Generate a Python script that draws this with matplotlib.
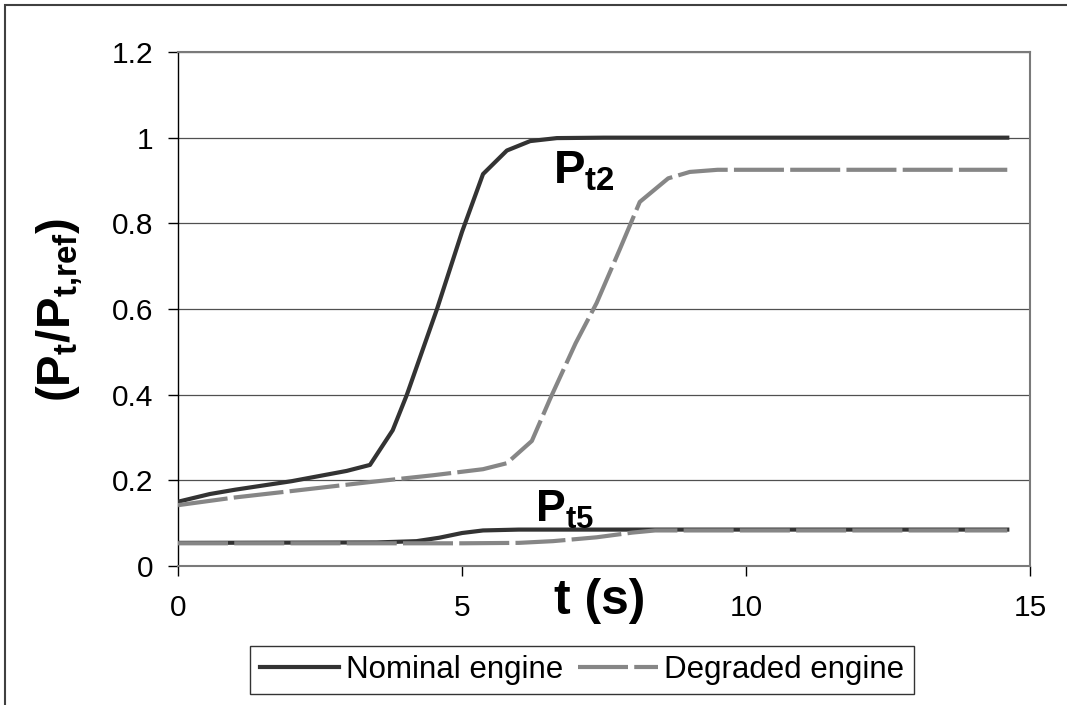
import matplotlib
matplotlib.use('Agg')
import matplotlib.pyplot as plt
from matplotlib.patches import Rectangle
from matplotlib.ticker import FuncFormatter, MultipleLocator

# Pt2 curves
t_nom_pt2 = [0, 0.56, 1.0, 2.0, 2.97, 3.38, 3.78, 4.03, 4.56, 5.0, 5.37, 5.79, 6.2, 6.67, 7.5, 14.6]
nom_pt2 = [0.150, 0.168, 0.178, 0.198, 0.222, 0.236, 0.317, 0.40, 0.60, 0.78, 0.915, 0.970, 0.992, 0.999, 1.0, 1.0]

t_deg_pt2 = [0, 1.0, 2.0, 3.38, 4.5, 5.37, 5.79, 6.23, 6.55, 7.0, 7.37, 7.78, 8.13, 8.63, 9.01, 9.5, 14.6]
deg_pt2 = [0.142, 0.160, 0.175, 0.196, 0.212, 0.226, 0.240, 0.292, 0.390, 0.520, 0.614, 0.740, 0.850, 0.905, 0.920, 0.925, 0.925]

# Pt5 curves
t_nom_pt5 = [0, 3.5, 4.2, 4.6, 5.0, 5.37, 6.0, 14.6]
nom_pt5 = [0.054, 0.055, 0.058, 0.066, 0.077, 0.083, 0.085, 0.085]

t_deg_pt5 = [0, 5.0, 6.0, 6.6, 7.37, 8.0, 8.4, 14.6]
deg_pt5 = [0.053, 0.053, 0.054, 0.058, 0.067, 0.078, 0.083, 0.083]

series_labels = ['Nominal engine', 'Degraded engine']

plt.rcParams['font.family'] = ['Liberation Sans', 'DejaVu Sans']
plt.rcParams['mathtext.fontset'] = 'custom'
plt.rcParams['mathtext.rm'] = 'Liberation Sans'
plt.rcParams['mathtext.bf'] = 'Liberation Sans:bold'
plt.rcParams['mathtext.it'] = 'Liberation Sans:italic'

W, H = 1067, 705
fig = plt.figure(figsize=(W / 100, H / 100), dpi=100)
ax = fig.add_axes([178 / W, 1 - 566 / H, (1030 - 178) / W, (566 - 52) / H])

nom_color = '#333333'
deg_color = '#868686'
lw = 3.0
dash = (12, 1.5)

ax.plot(t_nom_pt2, nom_pt2, color=nom_color, lw=lw, label=series_labels[0], zorder=3)
ax.plot(t_deg_pt2, deg_pt2, color=deg_color, lw=lw, dashes=dash, label=series_labels[1], zorder=3)
ax.plot(t_nom_pt5, nom_pt5, color=nom_color, lw=lw, zorder=3)
ax.plot(t_deg_pt5, deg_pt5, color=deg_color, lw=lw, dashes=dash, zorder=3)

ax.set_xlim(0, 15)
ax.set_ylim(0, 1.2)
ax.xaxis.set_major_locator(MultipleLocator(5))
ax.yaxis.set_major_locator(MultipleLocator(0.2))
ax.yaxis.set_major_formatter(FuncFormatter(lambda v, p: f'{v:g}'))
ax.xaxis.set_major_formatter(FuncFormatter(lambda v, p: f'{v:g}'))

ax.grid(axis='y', color='#505050', lw=0.9)
ax.set_axisbelow(True)
ax.tick_params(axis='both', labelsize=21.5, length=7.5, width=1, direction='out')
ax.tick_params(axis='x', pad=13)
ax.tick_params(axis='y', pad=10)

ax.spines['left'].set_color('black')
ax.spines['left'].set_linewidth(1)
for s in ['top', 'right', 'bottom']:
    ax.spines[s].set_color('#7a7a7a')
    ax.spines[s].set_linewidth(1.5)

ax.set_xlabel('t (s)', fontsize=36, fontweight='bold', va='center')
ax.xaxis.set_label_coords((600 - 178) / 852, (566 - 601) / 514)
fig.text(60 / W, 1 - 310 / H, r'$\mathbf{(P_{t}/P_{t{,}ref})}$', fontsize=34,
         rotation=90, ha='center', va='center')

ax.text(6.6, 0.894, r'$\mathbf{P_{t2}}$', fontsize=34, ha='left', va='baseline')
ax.text(6.29, 0.103, r'$\mathbf{P_{t5}}$', fontsize=32, ha='left', va='baseline')

leg = fig.legend(loc='center', bbox_to_anchor=(582 / W, 1 - 670 / H), ncol=2,
                 fontsize=22.5, frameon=True, fancybox=False, handlelength=2.55,
                 handletextpad=0.2, columnspacing=0.5, borderpad=0.3,
                 borderaxespad=0)
leg.get_frame().set_edgecolor('black')
leg.get_frame().set_linewidth(1)

fig.add_artist(Rectangle((5 / W, -0.1), 1.2, 1 - 5 / H + 0.1, transform=fig.transFigure,
                         fill=False, edgecolor='#404040', lw=1.5, clip_on=False))

fig.savefig('out.png', dpi=100)
